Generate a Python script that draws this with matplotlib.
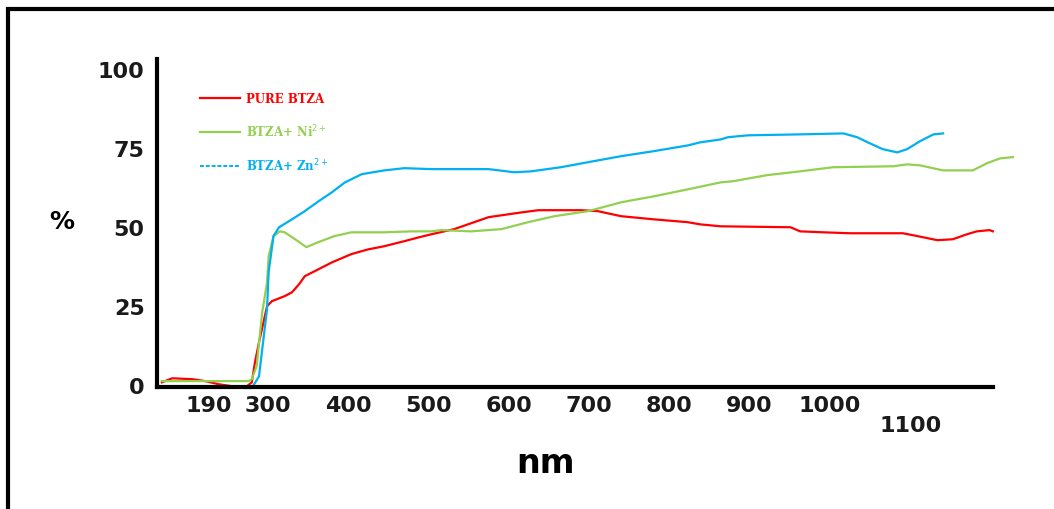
import matplotlib
matplotlib.use("Agg")
import matplotlib.pyplot as plt
from matplotlib.lines import Line2D

# transmittance spectra (wavelength in nm, transmittance in %)
pure_nm = [168, 181, 206, 222, 239, 255, 274, 280, 284, 289, 299, 305, 321, 330, 339, 346,
           363, 380, 404, 425, 445, 470, 488, 504, 532, 575, 616, 637, 690, 711, 740, 781,
           823, 839, 864, 951, 963, 992, 1025, 1091, 1109, 1134, 1153, 1171, 1183, 1199, 1203]
pure_t = [0.9, 2.2, 1.9, 1.3, 0.3, -0.3, -0.3, 0.9, 7.3, 13.6, 25.0, 26.6, 28.2, 29.4, 32.0, 34.5,
          36.7, 38.9, 41.5, 43.0, 44.0, 45.6, 46.8, 47.8, 49.4, 53.2, 54.7, 55.4, 55.4, 55.1, 53.5, 52.5,
          51.6, 50.9, 50.3, 50.0, 48.7, 48.4, 48.1, 48.1, 47.2, 45.9, 46.2, 47.8, 48.7, 49.1, 48.7]

ni_nm = [168, 276, 280, 286, 293, 299, 301, 307, 315, 321, 334, 348, 363, 383, 404, 445,
         479, 504, 516, 553, 591, 624, 657, 699, 740, 781, 823, 864, 880, 922, 963, 1004,
         1079, 1096, 1112, 1141, 1178, 1196, 1212, 1228]
ni_t = [1.3, 1.3, 1.9, 6.0, 23.1, 32.6, 40.8, 47.2, 48.7, 48.4, 46.2, 43.7, 45.3, 47.2, 48.4, 48.4,
        48.7, 48.7, 49.1, 48.7, 49.4, 51.6, 53.5, 55.1, 57.9, 59.8, 62.0, 64.2, 64.6, 66.5, 67.7, 69.0,
        69.3, 69.9, 69.6, 68.0, 68.0, 70.3, 71.8, 72.2]

zn_nm = [168, 280, 289, 293, 299, 301, 307, 314, 330, 346, 363, 380, 396, 417, 445, 470,
         504, 525, 575, 607, 628, 665, 699, 740, 781, 823, 839, 864, 873, 898, 963, 1017,
         1034, 1047, 1066, 1084, 1096, 1112, 1129, 1141]
zn_t = [-0.3, -0.9, 2.8, 11.4, 24.1, 35.8, 47.2, 50.0, 52.5, 55.1, 58.2, 61.1, 64.2, 66.8, 68.0, 68.7,
        68.4, 68.4, 68.4, 67.4, 67.7, 69.0, 70.6, 72.5, 74.1, 75.9, 76.9, 77.8, 78.5, 79.1, 79.4, 79.7,
        78.5, 76.9, 74.7, 73.7, 74.7, 77.2, 79.4, 79.7]

x_labels = ["190", "300", "400", "500", "600", "700", "800", "900", "1000", "\n1100"]
x_ticks = [226, 300, 400, 500, 600, 700, 800, 900, 1000, 1100]
y_ticks = [0, 25, 50, 75, 100]

red = "#ff0000"
green = "#92d050"
blue = "#00b0f0"

fig = plt.figure(figsize=(10.54, 5.10), dpi=100)
ax = fig.add_axes([0.149, 0.239, 0.793, 0.643])

ax.plot(pure_nm, pure_t, color=red, lw=1.6, clip_on=False)
ax.plot(ni_nm, ni_t, color=green, lw=1.6, clip_on=False)
ax.plot(zn_nm, zn_t, color=blue, lw=1.6, clip_on=False)

ax.set_xlim(162, 1203)
ax.set_ylim(-0.6, 103.2)

for s in ["top", "right"]:
    ax.spines[s].set_visible(False)
for s in ["left", "bottom"]:
    ax.spines[s].set_linewidth(3)
    ax.spines[s].set_color("black")

tick_font = dict(family="DejaVu Sans", weight="bold", size=16)
ax.set_xticks(x_ticks)
ax.set_xticklabels(x_labels, fontdict=tick_font, color="#1a1a1a", linespacing=0.95)
ax.set_yticks(y_ticks)
ax.set_yticklabels([str(v) for v in y_ticks], fontdict=tick_font, color="#1a1a1a")
ax.tick_params(axis="both", length=0)
ax.tick_params(axis="x", pad=6)
ax.tick_params(axis="y", pad=9)

ax.set_xlabel("nm", family="DejaVu Sans", weight="bold", size=24, va="center")
ax.xaxis.set_label_coords(0.465, -0.229)
ax.set_ylabel("%", family="DejaVu Sans", weight="bold", size=18,
              rotation=0, va="center", ha="center")
ax.yaxis.set_label_coords(-0.114, 0.506)

handles = [
    Line2D([], [], color=red, lw=1.6),
    Line2D([], [], color=green, lw=1.6),
    Line2D([], [], color=blue, lw=1.4, ls=(0, (2, 1))),
]
labels = ["PURE BTZA", "BTZA+ Ni$^{2+}$", "BTZA+ Zn$^{2+}$"]
ax.legend(handles, labels, loc="upper left", bbox_to_anchor=(0.051, 0.90),
          frameon=False, borderaxespad=0, borderpad=0, handlelength=3.4,
          handletextpad=0.5, labelspacing=1.5, labelcolor="linecolor",
          prop=dict(family="DejaVu Serif", weight="bold", size=8.5))

# outer frame: left and top edges only
fig.add_artist(Line2D([0.0076, 0.0076, 1.01], [-0.01, 0.980, 0.980],
                      transform=fig.transFigure, color="black", lw=3,
                      solid_joinstyle="miter"))

fig.savefig("out.png", dpi=100)
